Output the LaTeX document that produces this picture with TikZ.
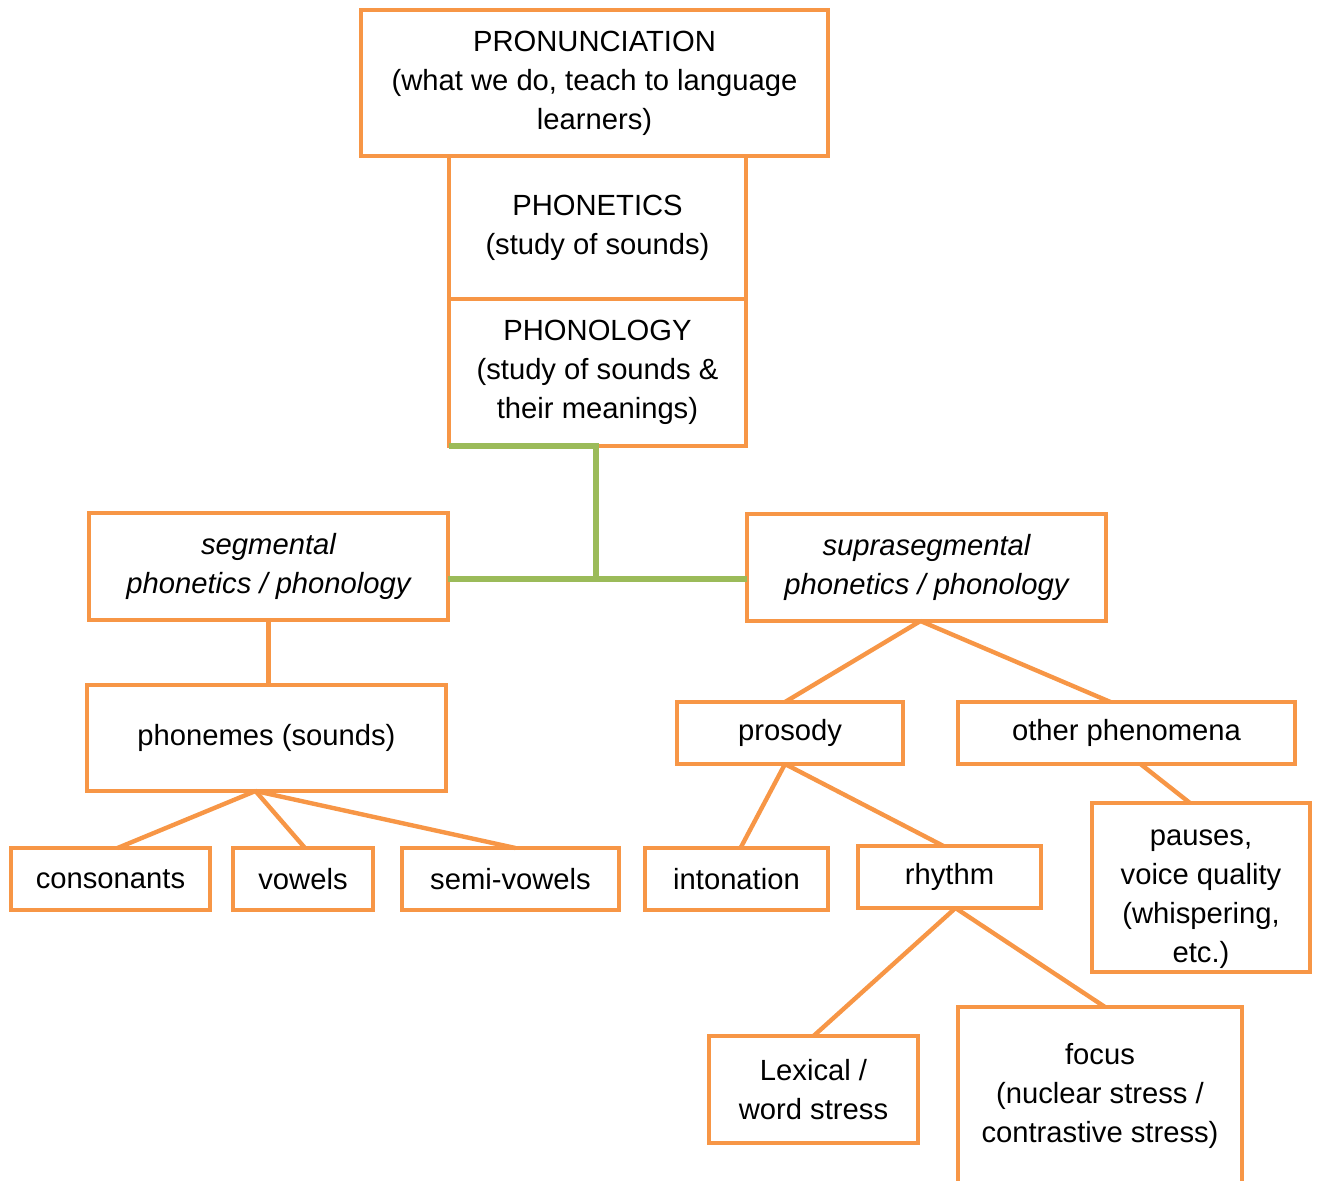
\documentclass[tikz,border=0pt]{standalone}
\usepackage{fontspec}
\setmainfont{Liberation Sans}
\definecolor{boxorange}{HTML}{F79646}
\definecolor{linkgreen}{HTML}{9BBB59}
\tikzset{
  box/.style={draw=boxorange, line width=2.2pt, align=center, inner sep=0pt, outer sep=0pt,
    font=\fontsize{14.6}{19.5}\selectfont},
  link/.style={draw=boxorange, line width=2.2pt},
  glink/.style={draw=linkgreen, line width=3pt},
}
\begin{document}
\begin{tikzpicture}[x=0.5pt,y=-0.5pt]
\useasboundingbox (0,0) rectangle (1317,1180);
\clip (0,0) rectangle (1317,1180);

% top column
\node[box, minimum width=233.5pt, minimum height=73pt]   (pron)      at (594.5,83)   {PRONUNCIATION\\(what we do, teach to language\\learners)};
\node[box, minimum width=148.5pt, minimum height=71.5pt] (phonetics) at (597.5,227.5) {PHONETICS\\(study of sounds)};
\node[box, minimum width=148.5pt, minimum height=73.5pt] (phonology) at (597.5,372.5) {PHONOLOGY\\(study of sounds \&\\their meanings)};

% two branches
\node[box, minimum width=179.5pt, minimum height=53.5pt] (segmental) at (268.5,566.5) {\itshape segmental\\\itshape phonetics / phonology};
\node[box, minimum width=179.5pt, minimum height=53.5pt] (supra)     at (926.5,567.5) {\itshape suprasegmental\\\itshape phonetics / phonology};

% segmental side
\node[box, minimum width=179.5pt, minimum height=53pt] (phonemes)   at (266.5,738) {phonemes (sounds)};
\node[box, minimum width=99.5pt,  minimum height=31pt] (consonants) at (110.5,879) {consonants};
\node[box, minimum width=70pt,    minimum height=31pt] (vowels)     at (303,879)   {vowels};
\node[box, minimum width=108.5pt, minimum height=31pt] (semivowels) at (510.5,879) {semi-vowels};

% suprasegmental side
\node[box, minimum width=113pt,   minimum height=31pt]   (prosody)    at (790,733)     {prosody};
\node[box, minimum width=168.5pt, minimum height=31pt]   (other)      at (1126.5,733)  {other phenomena};
\node[box, minimum width=91.5pt,  minimum height=31pt]   (intonation) at (736.5,879)   {intonation};
\node[box, minimum width=91.5pt,  minimum height=31pt]   (rhythm)     at (949.5,877)   {rhythm};
\node[box, minimum width=109pt,   minimum height=84.5pt] (pauses)     at (1201,887.5)  {\rule{0pt}{20pt}pauses,\\voice quality\\(whispering,\\etc.)};
\node[box, minimum width=104.5pt, minimum height=53.5pt] (lexical)    at (813.5,1089.5) {Lexical /\\word stress};
\node[box, minimum width=142pt,   minimum height=89pt]   (focus)      at (1100,1096)   {focus\\(nuclear stress /\\contrastive stress)};

% green fork under phonology
\coordinate (fork) at (596,579);
\draw[glink] (phonology.south west) -- (phonology.south west -| fork) -- (fork);
\draw[glink] (fork -| segmental.east) -- (fork -| supra.west);

\draw[link] (segmental.south) -- (segmental.south |- phonemes.north);
\draw[link] ([xshift=-5.5pt]phonemes.south) -- ([xshift=3.5pt]consonants.north);
\draw[link] ([xshift=-5.5pt]phonemes.south) -- ([xshift=1pt]vowels.north);
\draw[link] ([xshift=-5.5pt]phonemes.south) -- ([xshift=2.5pt]semivowels.north);

\draw[link] ([xshift=-3pt]supra.south) -- ([xshift=-2.5pt]prosody.north);
\draw[link] ([xshift=-3pt]supra.south) -- ([xshift=-8pt]other.north);
\draw[link] ([xshift=-2.5pt]prosody.south) -- ([xshift=2pt]intonation.north);
\draw[link] ([xshift=-2.5pt]prosody.south) -- ([xshift=-3pt]rhythm.north);
\draw[link] ([xshift=7pt]other.south) -- ([xshift=-5.5pt]pauses.north);
\draw[link] ([xshift=3pt]rhythm.south) -- (lexical.north);
\draw[link] ([xshift=3pt]rhythm.south) -- ([xshift=2.5pt]focus.north);
\end{tikzpicture}
\end{document}
